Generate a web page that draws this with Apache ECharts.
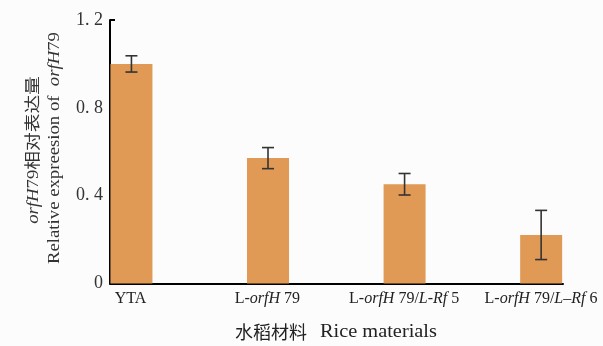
<!DOCTYPE html>
<html><head><meta charset="utf-8">
<script src="https://cdn.jsdelivr.net/npm/echarts@6/dist/echarts.min.js"></script>
<style>html,body{margin:0;padding:0;background:#fcfcfc}#c{width:603px;height:346px}</style>
</head><body><div id="c"></div>
<script>
var categories = ['YTA', 'L-{i|orfH} 79', 'L-{i|orfH} 79/{i|L-Rf} 5', 'L-{i|orfH} 79/{i|L–Rf} 6'];
var values = [1.0, 0.571, 0.452, 0.221];
var errors = [0.037, 0.048, 0.049, 0.112];
var yTicks = [0, 0.4, 0.8, 1.2];

var chart = echarts.init(document.getElementById('c'));
var FONT = 'Liberation Serif';
var barData = values.map(function (v, i) { return [i, v]; });
var errData = values.map(function (v, i) { return [i, v - errors[i], v + errors[i]]; });
var gTop = 20, gBottom = 346 - 283.5;

chart.setOption({
  backgroundColor: '#fcfcfc',
  animation: false,
  grid: [
    { left: 110, right: 40, top: gTop, bottom: gBottom, containLabel: false },
    { left: 130.5, right: 62, top: gTop, bottom: gBottom, containLabel: false }
  ],
  xAxis: [
    { type: 'value', gridIndex: 0, min: -0.157, max: 3.16, splitLine: { show: false },
      axisTick: { show: false }, axisLabel: { show: false },
      axisLine: { show: true, onZero: false, lineStyle: { color: '#000', width: 2 } } },
    { type: 'category', gridIndex: 1, data: categories, boundaryGap: false,
      axisLine: { show: false }, axisTick: { show: false },
      axisLabel: { interval: 0, margin: 7, color: '#222', fontFamily: FONT, fontSize: 16,
        formatter: function (v) { return v; },
        rich: { i: { fontStyle: 'italic', fontFamily: FONT, fontSize: 16, color: '#222' } } } }
  ],
  yAxis: [
    { type: 'value', gridIndex: 0, min: 0, max: 1.2, interval: 0.4,
      splitLine: { show: false },
      axisLine: { show: true, onZero: false, lineStyle: { color: '#000', width: 2 } },
      axisTick: { show: true, inside: true, length: 5, lineStyle: { color: '#000', width: 2 } },
      axisLabel: { color: '#333', fontFamily: FONT, fontSize: 18, margin: 7,
        formatter: function (v) { return v === 0 ? '0' : v.toFixed(1).replace('.', '. '); } } },
    { type: 'value', gridIndex: 1, min: 0, max: 1.2, show: false }
  ],
  series: [
    { type: 'bar', xAxisIndex: 0, yAxisIndex: 0, data: barData, barWidth: 42,
      itemStyle: { color: '#E09A55' } },
    { type: 'custom', xAxisIndex: 0, yAxisIndex: 0, data: errData, z: 5,
      renderItem: function (params, api) {
        var x = api.value(0);
        var lo = api.coord([x, api.value(1)]);
        var hi = api.coord([x, api.value(2)]);
        var w = 6;
        var st = { stroke: '#333', lineWidth: 1.6 };
        return { type: 'group', children: [
          { type: 'line', shape: { x1: lo[0], y1: lo[1], x2: hi[0], y2: hi[1] }, style: st },
          { type: 'line', shape: { x1: lo[0] - w, y1: lo[1], x2: lo[0] + w, y2: lo[1] }, style: st },
          { type: 'line', shape: { x1: hi[0] - w, y1: hi[1], x2: hi[0] + w, y2: hi[1] }, style: st }
        ] };
      } }
  ],
  graphic: [
    { type: 'text', x: 307, y: 332, style: { text: '水稻材料', fill: '#222',
        font: '18px "Noto Sans CJK SC"', align: 'right', verticalAlign: 'middle' } },
    { type: 'text', x: 320, y: 332, scaleX: 1.13, style: { text: 'Rice materials', fill: '#222',
        font: '18px "Liberation Serif"', align: 'left', verticalAlign: 'middle' } },
    { type: 'text', x: 34, y: 150, rotation: Math.PI / 2, scaleX: 1.17,
      style: { text: '{i|orfH}79相对表达量', align: 'center', verticalAlign: 'middle',
        fill: '#333', font: '16px "Liberation Serif", "Noto Sans CJK SC"',
        rich: { i: { fontStyle: 'italic', fontFamily: FONT, fontSize: 16, fill: '#333' } } } },
    { type: 'text', x: 55, y: 148, rotation: Math.PI / 2, scaleX: 1.17,
      style: { text: 'Relative expreesion of  {i|orfH}79', align: 'center', verticalAlign: 'middle',
        fill: '#333', font: '16px "Liberation Serif"',
        rich: { i: { fontStyle: 'italic', fontFamily: FONT, fontSize: 16, fill: '#333' } } } }
  ]
});
</script></body></html>
